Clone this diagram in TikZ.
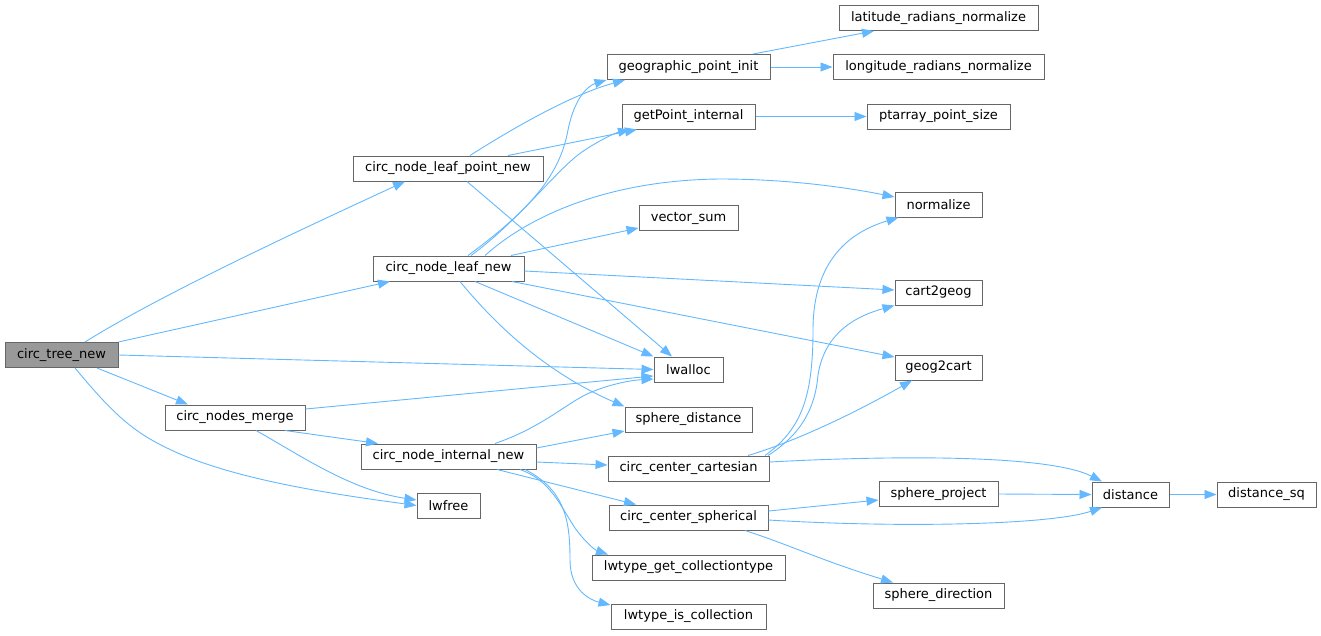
\documentclass[tikz,border=0pt]{standalone}
\usepackage{fontspec}
\setmainfont{DejaVu Sans}
\usetikzlibrary{arrows.meta}
\definecolor{edgec}{HTML}{63B8FF}
\definecolor{bordc}{HTML}{666666}
\definecolor{rootc}{HTML}{999999}
\tikzset{
  fn/.style={draw=bordc, line width=1pt, fill=white, minimum height=25pt, inner sep=0pt,
    font=\fontsize{13}{15}\selectfont, anchor=center},
  rootfn/.style={fn, fill=rootc},
  call/.style={draw=edgec, line width=0.9pt, -{Triangle[length=12pt,width=9pt]}}
}
\begin{document}
\begin{tikzpicture}[x=1pt,y=-1pt]
\useasboundingbox (0,0) rectangle (1321,635);
% column 0-2
\node[rootfn, minimum width=113pt] (tree) at (61.5,355) {circ\_tree\_new};
\node[fn, minimum width=190pt] (leafpt) at (448,168.5) {circ\_node\_leaf\_point\_new};
\node[fn, minimum width=151pt] (leaf) at (448.5,268.5) {circ\_node\_leaf\_new};
\node[fn, minimum width=140pt] (merge) at (235,417.5) {circ\_nodes\_merge};
\node[fn, minimum width=175pt] (internal) at (448.5,456.5) {circ\_node\_internal\_new};
\node[fn, minimum width=63pt] (lwfree) at (448.5,505.5) {lwfree};
% column 3
\node[fn, minimum width=163pt] (gpi) at (688.5,67) {geographic\_point\_init};
\node[fn, minimum width=133pt] (gpint) at (688.5,116.5) {getPoint\_internal};
\node[fn, minimum width=99pt] (vsum) at (688.5,218) {vector\_sum};
\node[fn, minimum width=69pt] (lwalloc) at (688.5,369.5) {lwalloc};
\node[fn, minimum width=127pt] (sphdist) at (688.5,419.5) {sphere\_distance};
\node[fn, minimum width=161pt] (cart) at (688.5,468.5) {circ\_center\_cartesian};
\node[fn, minimum width=159pt] (sph) at (688.5,517.5) {circ\_center\_spherical};
\node[fn, minimum width=193pt] (getct) at (688.5,567.5) {lwtype\_get\_collectiontype};
\node[fn, minimum width=155pt] (iscoll) at (688.5,616.5) {lwtype\_is\_collection};
% column 4
\node[fn, minimum width=199pt] (lat) at (938.5,18) {latitude\_radians\_normalize};
\node[fn, minimum width=211pt] (lon) at (938.5,67) {longitude\_radians\_normalize};
\node[fn, minimum width=143pt] (ptarr) at (938.5,116.5) {ptarray\_point\_size};
\node[fn, minimum width=87pt] (norm) at (938.5,204.5) {normalize};
\node[fn, minimum width=87pt] (c2g) at (938.5,292.5) {cart2geog};
\node[fn, minimum width=87pt] (g2c) at (938.5,367.5) {geog2cart};
\node[fn, minimum width=119pt] (sproj) at (938.5,494) {sphere\_project};
\node[fn, minimum width=131pt] (sdir) at (938.5,595.5) {sphere\_direction};
% columns 5-6
\node[fn, minimum width=77pt] (dist) at (1130.5,494.5) {distance};
\node[fn, minimum width=99pt] (dsq) at (1266.5,494.5) {distance\_sq};

% edges from circ_tree_new
\draw[call] ([xshift=23.5pt]tree.north) .. controls (160,295) and (300,230) .. ([xshift=-43pt]leafpt.south);
\draw[call] (tree.north east) -- ([xshift=-58.5pt]leaf.south);
\draw[call] (tree.east) -- (lwalloc.west);
\draw[call] ([xshift=35.5pt]tree.south) -- ([xshift=-47pt]merge.north);
\draw[call] ([xshift=13.5pt]tree.south) .. controls (110,410) and (130,430) .. (165,447)
  .. controls (230,480) and (340,495) .. (lwfree.west);
% from circ_node_leaf_point_new
\draw[call] ([xshift=22pt]leafpt.north) .. controls (510,130) and (570,95) .. ([xshift=-63.5pt]gpi.south);
\draw[call] ([xshift=60pt]leafpt.north) -- ([xshift=-51.5pt]gpint.south);
\draw[call] ([xshift=19pt]leafpt.south) -- ([xshift=-16.5pt]lwalloc.north);
% from circ_node_leaf_new
\draw[call] ([xshift=19.5pt]leaf.north) .. controls (530,210) and (560,175) .. (568,130)
  .. controls (575,95) and (590,85) .. (gpi.south west);
\draw[call] ([xshift=22.5pt]leaf.north) .. controls (520,220) and (560,165) .. (585,150)
  .. controls (600,140) and (615,133) .. ([xshift=-58.5pt]gpint.south);
\draw[call] ([xshift=36.5pt]leaf.north) .. controls (530,215) and (610,180) .. (720,179)
  .. controls (790,179) and (850,188) .. ([yshift=7.5pt]norm.west);
\draw[call] ([xshift=62.5pt]leaf.north) -- ([yshift=-10pt]vsum.west);
\draw[call] ([yshift=-2.5pt]leaf.east) -- ([yshift=2.5pt]c2g.west);
\draw[call] ([xshift=63.5pt]leaf.south) -- ([yshift=10.5pt]g2c.west);
\draw[call] ([xshift=26.5pt]leaf.south) -- (lwalloc.north west);
\draw[call] ([xshift=11.5pt]leaf.south) .. controls (490,318) and (540,370) .. (sphdist.north west);
% from circ_nodes_merge
\draw[call] ([yshift=8.5pt]merge.east) -- ([yshift=-6.5pt]lwalloc.west);
\draw[call] ([xshift=50pt]merge.south) -- ([xshift=-70.5pt]internal.north);
\draw[call] ([xshift=21pt]merge.south) .. controls (300,455) and (350,490) .. ([yshift=5.5pt]lwfree.west);
% from circ_node_internal_new
\draw[call] ([xshift=46.5pt]internal.north) .. controls (540,428) and (565,405) .. (585,395)
  .. controls (610,383) and (635,380) .. ([yshift=-9.5pt]lwalloc.west);
\draw[call] ([yshift=8.5pt]internal.east) -- ([yshift=-11.5pt]sphdist.west);
\draw[call] ([yshift=-5.5pt]internal.east) -- ([yshift=3.5pt]cart.west);
\draw[call] ([xshift=48.5pt]internal.south) -- ([xshift=-52.5pt]sph.north);
\draw[call] ([xshift=71.5pt]internal.south) .. controls (550,480) and (560,505) .. (575,528)
  .. controls (585,542) and (595,550) .. ([xshift=-80.5pt]getct.north);
\draw[call] ([xshift=76.5pt]internal.south) .. controls (565,490) and (570,520) .. (570,560)
  .. controls (570,590) and (590,600) .. ([yshift=11.5pt]iscoll.west);
% from circ_center_cartesian
\draw[call] ([xshift=76.5pt]cart.north) .. controls (800,430) and (813,400) .. (813,330)
  .. controls (813,260) and (850,232) .. ([xshift=-40pt]norm.south);
\draw[call] ([xshift=79.5pt]cart.north) .. controls (800,435) and (815,410) .. (818,375)
  .. controls (825,330) and (860,315) .. (c2g.south west);
\draw[call] ([xshift=59.5pt]cart.north) .. controls (800,440) and (860,410) .. ([xshift=-26.5pt]g2c.south);
\draw[call] ([yshift=6.5pt]cart.east) .. controls (900,455) and (1050,455) .. ([xshift=-28.5pt]dist.north);
% from circ_center_spherical
\draw[call] ([yshift=6.5pt]sph.east) -- ([yshift=-6pt]sproj.west);
\draw[call] ([yshift=-2.5pt]sph.east) .. controls (900,528) and (1050,525) .. ([xshift=-28.5pt]dist.south);
\draw[call] ([xshift=56.5pt]sph.south) .. controls (790,545) and (820,560) .. ([xshift=-45.5pt]sdir.north);
% others
\draw[call] ([xshift=64.5pt]gpi.north) -- ([xshift=-64.5pt]lat.south);
\draw[call] (gpi.east) -- (lon.west);
\draw[call] (gpint.east) -- (ptarr.west);
\draw[call] (sproj.east) -- (dist.west);
\draw[call] (dist.east) -- (dsq.west);
\end{tikzpicture}
\end{document}
